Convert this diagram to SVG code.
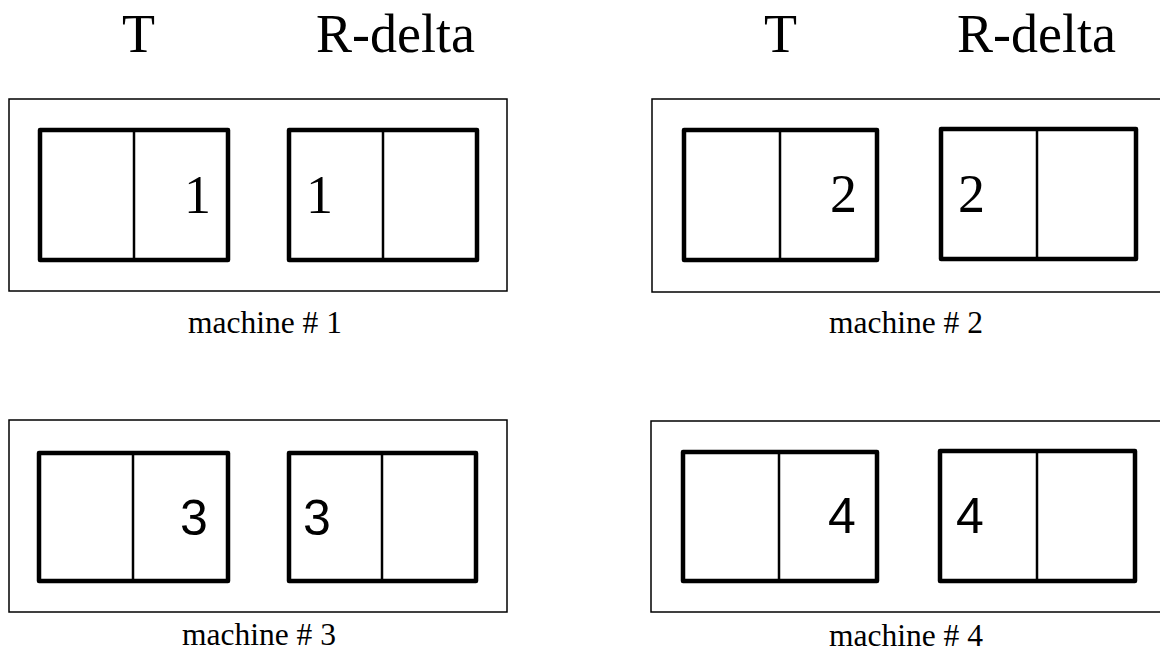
<svg xmlns="http://www.w3.org/2000/svg" width="1160" height="658" viewBox="0 0 1160 658">
<style>
.outer{fill:none;stroke:#000;stroke-width:1.5}
.box{fill:none;stroke:#000;stroke-width:4.5;stroke-linejoin:round}
.div{stroke:#000;stroke-width:2.5}
.hdr{font-family:"Liberation Serif","Times New Roman",serif;font-size:54px;fill:#000}
.num{font-family:"Liberation Serif","Times New Roman",serif;font-size:54px;fill:#000}
.nums{font-family:"Liberation Sans",Arial,sans-serif;font-size:50px;fill:#000}
.lbl{font-family:"Liberation Serif","Times New Roman",serif;font-size:31.5px;fill:#000;text-anchor:middle}
</style>
<rect width="1160" height="658" fill="#fff"/>
<g id="headers">
<text class="hdr" x="122" y="52">T</text>
<text class="hdr" x="316" y="52">R-delta</text>
<text class="hdr" x="764" y="52">T</text>
<text class="hdr" x="957" y="52">R-delta</text>
</g>
<g id="machine1">
<rect class="outer" x="9" y="99" width="498" height="192"/>
<rect class="box" x="40" y="130" width="188" height="130"/>
<line class="div" x1="134" y1="130" x2="134" y2="260"/>
<text class="num" x="184" y="213">1</text>
<rect class="box" x="289" y="130" width="188" height="130"/>
<line class="div" x1="383" y1="130" x2="383" y2="260"/>
<text class="num" x="306" y="213">1</text>
<text class="lbl" x="265" y="333">machine # 1</text>
</g>
<g id="machine2">
<rect class="outer" x="652" y="99" width="520" height="193"/>
<rect class="box" x="684" y="130" width="193" height="130"/>
<line class="div" x1="780" y1="130" x2="780" y2="260"/>
<text class="num" x="830" y="212">2</text>
<rect class="box" x="941" y="129" width="195" height="130"/>
<line class="div" x1="1037" y1="129" x2="1037" y2="259"/>
<text class="num" x="958" y="212">2</text>
<text class="lbl" x="906" y="333">machine # 2</text>
</g>
<g id="machine3">
<rect class="outer" x="9" y="420" width="498" height="192"/>
<rect class="box" x="39" y="453" width="189" height="128"/>
<line class="div" x1="133" y1="453" x2="133" y2="581"/>
<text class="nums" x="180" y="535">3</text>
<rect class="box" x="289" y="453" width="187" height="128"/>
<line class="div" x1="382" y1="453" x2="382" y2="581"/>
<text class="nums" x="303" y="535">3</text>
<text class="lbl" x="259" y="645">machine # 3</text>
</g>
<g id="machine4">
<rect class="outer" x="651" y="421" width="520" height="191"/>
<rect class="box" x="683" y="452" width="194" height="129"/>
<line class="div" x1="779" y1="452" x2="779" y2="581"/>
<text class="nums" x="828" y="533">4</text>
<rect class="box" x="940" y="451" width="195" height="130"/>
<line class="div" x1="1037" y1="451" x2="1037" y2="581"/>
<text class="nums" x="956" y="533">4</text>
<text class="lbl" x="906" y="646">machine # 4</text>
</g>
<g id="connectors"/>
</svg>
